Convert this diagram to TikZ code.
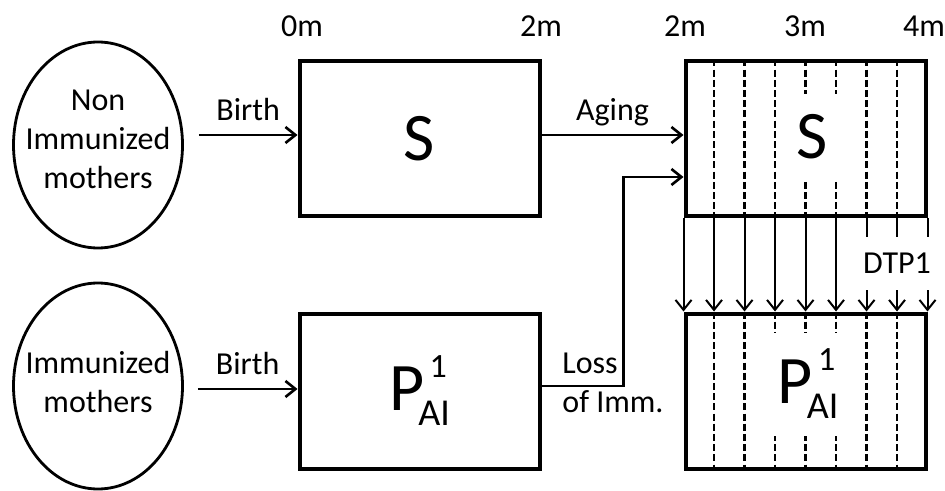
\documentclass[tikz,border=0pt]{standalone}
\usepackage{fontspec}
\setmainfont{Carlito}
\usetikzlibrary{arrows.meta, shapes.geometric, calc}

% P with sub- and superscript, set in text font
\newcommand{\pai}{P\kern-3pt\raisebox{-7.5pt}{\fontsize{19}{19}\selectfont AI}\llap{\raisebox{16.5pt}{\fontsize{17}{17}\selectfont 1}\kern1.5pt}}

\begin{document}
\begin{tikzpicture}[
  x=0.5pt, y=-0.5pt,
  font=\fontsize{16}{19.5}\selectfont,
  mother/.style={draw, ellipse, line width=1.4pt, minimum width=84.5pt, minimum height=103pt, align=center, inner xsep=-8pt, inner ysep=0pt},
  comp/.style  ={draw, line width=2pt, minimum width=120pt, minimum height=77.5pt, inner sep=0pt, font=\fontsize{34}{40}\selectfont},
  big/.style   ={fill=white, inner sep=0pt, font=\fontsize{34}{40}\selectfont},
  arr/.style   ={-{Straight Barb[length=5pt, width=8pt]}, line width=1.3pt},
  cohort/.style={line width=1.3pt, dash pattern=on 3.5pt off 1.6pt},
  agelbl/.style={anchor=base, inner sep=0pt},
  lbl/.style   ={above=6.5pt, inner sep=0pt, text depth=0pt},
]
  \useasboundingbox (0,0) rectangle (945,491);

  \node[mother, text depth=6pt] (nonimm) at (98,145) {Non\\Immunized\\mothers};
  \node[mother, text depth=4pt] (imm)    at (98,386) {Immunized\\mothers};

  \node[comp] (S0) at (419.5,139) {S};
  \node[comp] (P0) at (419.5,391) {\pai};
  \node[comp] (S2) at (805.5,139) {};
  \node[comp] (P2) at (805.5,391) {};

  % age limits
  \node[agelbl] (t0)  at (302,37) {0m};
  \node[agelbl] (t2a) at (541,37) {2m};
  \node[agelbl] (t2b) at (685,37) {2m};
  \node[agelbl] (t3)  at (805,37) {3m};
  \node[agelbl] (t4)  at (924,37) {4m};

  % weekly cohorts
  \foreach \i in {1,...,7} {
    \draw[cohort] ($(S2.north west)!\i/8!(S2.north east)$) -- ($(S2.south west)!\i/8!(S2.south east)$);
    \draw[cohort] ($(P2.north west)!\i/8!(P2.north east)$) -- ($(P2.south west)!\i/8!(P2.south east)$);
  }
  \node[big, minimum width=30pt, minimum height=42.5pt] (Slbl) at (812,137) {S};
  \node[big, minimum width=40pt, minimum height=51.5pt] (Plbl) at (808,384) {\pai};

  \draw[arr] ([xshift=7.5pt,yshift=5pt]nonimm.east) -- node[lbl]{Birth} ([yshift=2pt]S0.west);
  \draw[arr] ([xshift=7pt,yshift=-1.5pt]imm.east)   -- node[lbl]{Birth} ([yshift=1pt]P0.west);
  \draw[arr] ([yshift=2pt]S0.east) -- node[lbl]{Aging} ([yshift=2pt]S2.west);
  \draw[arr] ([yshift=2.5pt]P0.east) -- ++(41pt,0) |- ([yshift=-19pt]S2.west);
  \node[anchor=base west, inner sep=0pt] (loss)  at (562,373) {Loss};
  \node[anchor=base west, inner sep=0pt] (ofimm) at (562,412) {of Imm.};

  \foreach \i in {0,...,8}
    \draw[arr, line width=1pt] ($(S2.south west)!\i/8!(S2.south east)$) -- ($(P2.north west)!\i/8!(P2.north east)$);
  \node[fill=white, inner xsep=2pt, inner ysep=0pt, minimum height=26.5pt] (dtp) at (897,263.5) {DTP1};
\end{tikzpicture}
\end{document}
